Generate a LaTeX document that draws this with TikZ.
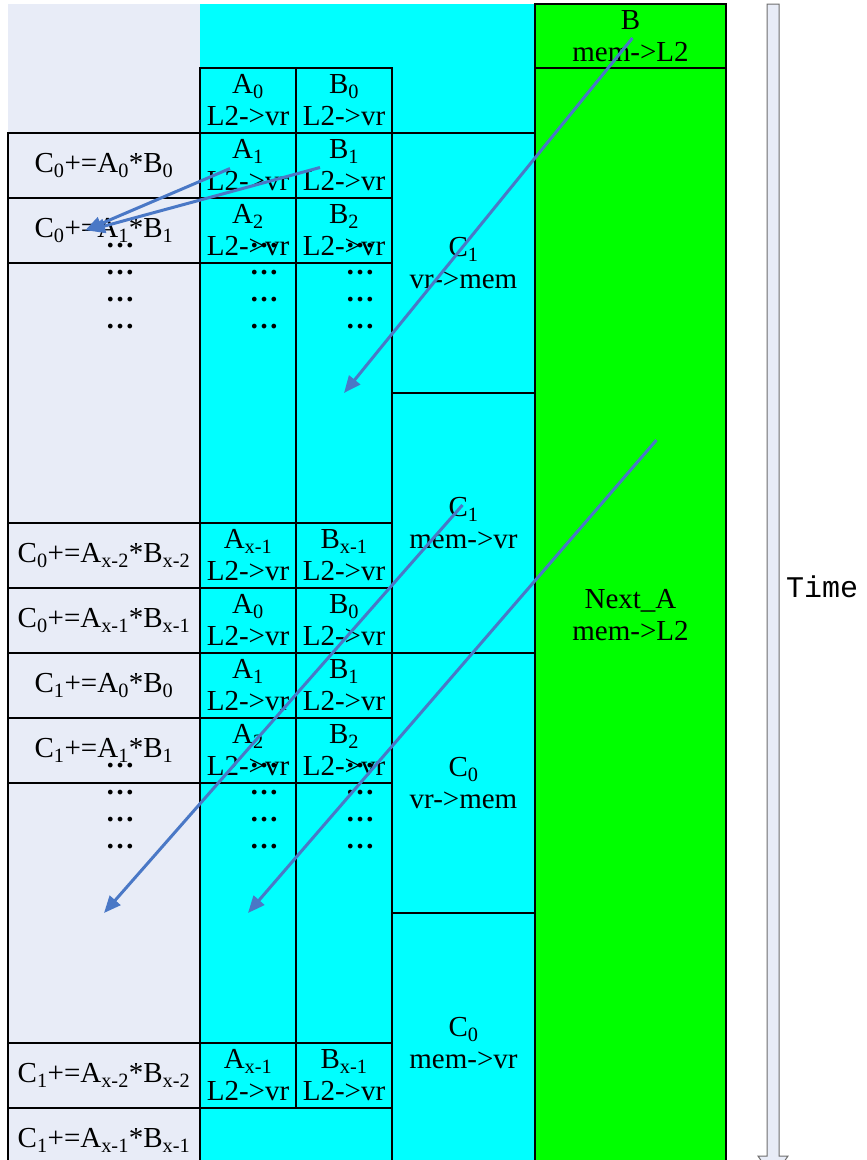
\documentclass[tikz,border=0pt]{standalone}
\usepackage{fontspec}
\setmainfont{Liberation Serif}
\newfontfamily\timefont{Liberation Mono}
\usepackage{xcolor}
\usepackage{tikz}
\usetikzlibrary{arrows.meta,positioning,calc}

\definecolor{opbg}{RGB}{232,236,247}
\definecolor{regbg}{RGB}{0,255,255}
\definecolor{l2bg}{RGB}{0,255,0}
\definecolor{flowblue}{RGB}{74,120,198}
\definecolor{timeline}{RGB}{110,110,110}

\newcommand{\idx}[1]{\textsubscript{#1}}
\newcommand{\cellfont}{\fontsize{29}{32}\selectfont}

\begin{document}
\begin{tikzpicture}[
    x=1pt, y=-1pt,
    node distance=0pt,
    cell/.style={draw, line width=2pt, inner sep=0pt, outer sep=0pt, align=center, minimum height=65pt, font=\cellfont},
    opcell/.style={cell, fill=opbg, minimum width=192pt},
    regcell/.style={cell, fill=regbg, minimum width=96pt},
    tall/.style={minimum height=260pt},
    storecell/.style={cell, fill=regbg, minimum width=143pt, minimum height=260pt},
    l2cell/.style={cell, fill=l2bg, minimum width=191pt},
    dotstack/.style={align=center, inner sep=0pt, font=\fontsize{29}{27}\selectfont\bfseries},
    flow/.style={-{Triangle[length=17pt, width=14pt]}, line width=3pt, draw=flowblue}
]
\useasboundingbox (0,0) rectangle (867,1160);
\clip (0,0) rectangle (867,1160);
% background bands
\fill[opbg] (8,4) rectangle (200,1160);
\fill[regbg] (200,4) rectangle (535,1160);

% compute steps
\node[opcell, anchor=north west] (op1) at (8,133) {C\idx{0}+=A\idx{0}*B\idx{0}};
\node[opcell, below=of op1] (op2) {C\idx{0}+=A\idx{1}*B\idx{1}};
\node[opcell, tall, below=of op2] (opdots1) {};
\node[opcell, below=of opdots1] (op3) {C\idx{0}+=A\idx{x-2}*B\idx{x-2}};
\node[opcell, below=of op3] (op4) {C\idx{0}+=A\idx{x-1}*B\idx{x-1}};
\node[opcell, below=of op4] (op5) {C\idx{1}+=A\idx{0}*B\idx{0}};
\node[opcell, below=of op5] (op6) {C\idx{1}+=A\idx{1}*B\idx{1}};
\node[opcell, tall, below=of op6] (opdots2) {};
\node[opcell, below=of opdots2] (op7) {C\idx{1}+=A\idx{x-2}*B\idx{x-2}};
\node[opcell, below=of op7] (op8) {C\idx{1}+=A\idx{x-1}*B\idx{x-1}};

% L2 -> register loads
\node[regcell, right=of op1] (a1) {A\idx{1}\\L2->vr};
\node[regcell, right=of a1] (b1) {B\idx{1}\\L2->vr};
\node[regcell, above=of a1] (a0) {A\idx{0}\\L2->vr};
\node[regcell, above=of b1] (b0) {B\idx{0}\\L2->vr};
\node[regcell, right=of op2] (a2) {A\idx{2}\\L2->vr};
\node[regcell, right=of a2] (b2) {B\idx{2}\\L2->vr};
\node[regcell, tall, right=of opdots1] (adots1) {};
\node[regcell, tall, right=of adots1] (bdots1) {};
\node[regcell, right=of op3] (a3) {A\idx{x-1}\\L2->vr};
\node[regcell, right=of a3] (b3) {B\idx{x-1}\\L2->vr};
\node[regcell, right=of op4] (a4) {A\idx{0}\\L2->vr};
\node[regcell, right=of a4] (b4) {B\idx{0}\\L2->vr};
\node[regcell, right=of op5] (a5) {A\idx{1}\\L2->vr};
\node[regcell, right=of a5] (b5) {B\idx{1}\\L2->vr};
\node[regcell, right=of op6] (a6) {A\idx{2}\\L2->vr};
\node[regcell, right=of a6] (b6) {B\idx{2}\\L2->vr};
\node[regcell, tall, right=of opdots2] (adots2) {};
\node[regcell, tall, right=of adots2] (bdots2) {};
\node[regcell, right=of op7] (a7) {A\idx{x-1}\\L2->vr};
\node[regcell, right=of a7] (b7) {B\idx{x-1}\\L2->vr};

% C stores and loads
\node[storecell, below right=of b0] (c1out) {C\idx{1}\\vr->mem};
\node[storecell, below=of c1out] (c1in) {C\idx{1}\\mem->vr};
\node[storecell, below=of c1in] (c0out) {C\idx{0}\\vr->mem};
\node[storecell, below=of c0out] (c0in) {C\idx{0}\\mem->vr};

% memory -> L2
\node[l2cell, minimum height=64pt, anchor=north west] (bmem) at (535,4) {B\\mem->L2};
\node[l2cell, minimum height=1094pt, below=of bmem] (nexta) {Next\_A\\mem->L2};

% dots in the tall cells
\foreach \tallname in {opdots1,adots1,bdots1,opdots2,adots2,bdots2}
    \node[dotstack] (\tallname-dots) at ($(\tallname.center)+(16,-107)$) {\dots\\\dots\\\dots\\\dots};

% time axis
\draw[timeline, fill=opbg, line width=1pt] (767,4) -- (779,4) -- (779,1156) -- (788,1156) -- (773,1178) -- (758,1156) -- (767,1156) -- cycle;
\node[font=\timefont\fontsize{30}{30}\selectfont, anchor=west, inner sep=0pt] (time) at (786,587) {Time};

% data flow
\draw[flow] ($(a1.center)+(-18,3)$) -- ($(op2.center)+(-19,0)$);
\draw[flow] ($(b1.center)+(-24,2)$) -- ($(op2.center)+(-16,0)$);
\draw[flow] ($(bmem.center)+(2,2)$) -- (bdots1.center);
\draw[flow] ($(nexta.center)+(26,-175)$) -- (adots2.center);
\draw[flow] ($(c1in.center)+(-1,-18)$) -- (opdots2.center);
\end{tikzpicture}
\end{document}
